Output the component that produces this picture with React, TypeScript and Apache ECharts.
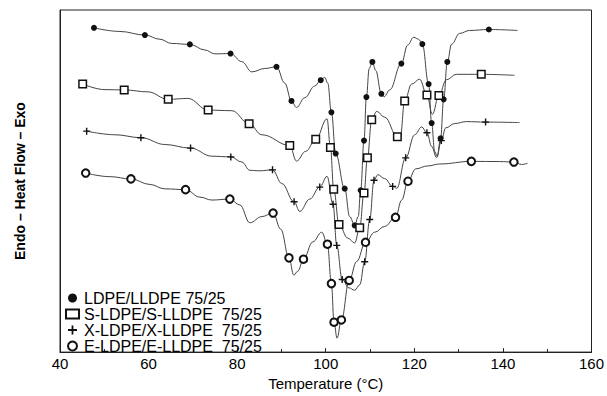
import React, { useEffect, useRef } from "react";
import * as echarts from "echarts";

// [temperature (°C), heat flow (arb. units), marker flag]
const ldpeLldpe: [number, number, number][] = [
  [47.67, 33.27, 1], [53.53, 32.9, 0], [59.17, 32.53, 1], [62.56, 32.1, 0], [65.19, 31.67, 0],
  [69.32, 31.57, 1], [72.71, 31.0, 0], [74.96, 30.6, 0], [78.5, 30.63, 1], [81.05, 29.8, 0],
  [83.31, 28.75, 0], [86.24, 29.1, 0], [88.88, 29.27, 1], [90.75, 27.6, 0], [92.26, 25.77, 1],
  [93.39, 25.1, 0], [95.26, 26.1, 0], [97.52, 27.3, 0], [98.87, 27.9, 1], [99.77, 28.2, 0],
  [100.45, 27.6, 0], [101.28, 24.6, 1], [102.25, 20.37, 1], [104.28, 16.77, 1], [105.41, 13.9, 0],
  [106.54, 13.0, 1], [107.33, 13.9, 0], [107.89, 16.6, 1], [108.64, 21.7, 1], [109.18, 26.17, 1],
  [109.81, 29.1, 0], [110.53, 29.77, 1], [111.28, 28.9, 0], [112.56, 26.5, 1], [113.19, 26.2, 0],
  [114.43, 26.9, 0], [117.07, 29.6, 1], [118.49, 31.5, 0], [119.85, 32.3, 0], [120.98, 32.1, 0],
  [121.81, 31.6, 1], [123.23, 27.5, 1], [123.91, 23.5, 1], [124.59, 20.6, 0], [125.15, 20.1, 0],
  [125.94, 21.93, 1], [126.62, 25.93, 1], [127.45, 29.77, 1], [128.42, 31.6, 0], [130.23, 32.7, 0],
  [132.48, 33.0, 0], [136.83, 33.1, 1], [143.31, 33.0, 0],
];

const sLdpeSLldpe: [number, number, number][] = [
  [45.12, 27.5, 1], [50.15, 26.93, 0], [54.5, 26.9, 1], [59.85, 26.7, 0], [64.43, 25.93, 1],
  [68.87, 26.03, 0], [73.45, 24.83, 1], [78.8, 24.77, 0], [82.7, 23.43, 1], [85.56, 22.3, 0],
  [91.88, 21.2, 1], [93.39, 19.6, 0], [95.49, 20.6, 0], [97.74, 21.83, 1], [100.29, 23.93, 0],
  [101.06, 21.0, 1], [101.8, 16.7, 1], [103.0, 13.1, 1], [104.96, 11.7, 0], [106.54, 11.2, 0],
  [107.67, 12.77, 1], [108.64, 16.33, 1], [109.41, 19.93, 1], [110.38, 23.83, 1], [111.5, 24.7, 0],
  [113.31, 24.1, 0], [116.17, 22.1, 1], [116.8, 21.9, 0], [117.82, 25.77, 1], [119.4, 27.5, 0],
  [121.2, 28.0, 0], [122.85, 26.37, 1], [124.07, 24.4, 0], [125.55, 26.33, 1], [127.22, 27.93, 0],
  [129.48, 28.5, 0], [135.12, 28.5, 1], [142.63, 28.4, 0],
];

const xLdpeXLldpe: [number, number, number][] = [
  [46.02, 22.67, 1], [52.41, 22.3, 0], [58.27, 22.0, 1], [63.68, 21.3, 0], [69.48, 20.93, 1],
  [74.28, 20.1, 0], [78.57, 20.03, 1], [81.05, 19.5, 0], [82.86, 18.65, 0], [85.11, 18.6, 0],
  [87.98, 18.7, 1], [90.07, 17.3, 0], [92.85, 15.43, 1], [94.13, 14.43, 0], [96.39, 15.7, 0],
  [98.65, 16.93, 1], [100.29, 18.03, 0], [101.65, 15.17, 1], [102.48, 10.95, 1], [103.72, 7.45, 1],
  [105.19, 6.6, 0], [106.54, 6.35, 0], [107.67, 6.9, 0], [108.8, 9.27, 1], [109.93, 13.6, 1],
  [110.9, 17.63, 1], [111.73, 18.2, 0], [113.31, 17.8, 0], [115.11, 17.0, 1], [116.02, 16.8, 0],
  [118.05, 19.93, 1], [120.08, 22.3, 0], [121.66, 23.1, 0], [122.85, 22.5, 1], [123.91, 21.1, 0],
  [125.04, 19.95, 0], [126.1, 21.7, 1], [127.07, 23.0, 0], [129.1, 23.45, 0], [131.74, 23.65, 0],
  [136.09, 23.6, 1], [143.76, 23.55, 0],
];

const eLdpeELldpe: [number, number, number][] = [
  [45.8, 18.37, 1], [51.28, 18.0, 0], [56.02, 17.77, 1], [60.3, 17.2, 0], [63.68, 16.75, 0],
  [68.35, 16.67, 1], [71.58, 15.9, 0], [74.28, 15.6, 0], [78.35, 15.7, 1], [80.6, 15.1, 0],
  [82.86, 13.27, 0], [85.56, 13.9, 0], [88.11, 14.27, 1], [89.85, 12.6, 0], [91.7, 9.67, 1],
  [92.78, 7.9, 0], [93.68, 8.3, 0], [94.97, 9.53, 1], [97.07, 11.3, 0], [99.1, 12.3, 0],
  [100.38, 11.07, 1], [101.28, 7.03, 1], [101.87, 3.07, 1], [102.55, 1.43, 0], [103.54, 3.3, 1],
  [105.3, 7.35, 1], [106.99, 9.3, 0], [108.98, 11.27, 1], [111.06, 12.3, 0], [113.31, 12.9, 0],
  [115.75, 13.83, 1], [117.15, 15.6, 0], [118.57, 17.53, 1], [120.3, 18.8, 0], [123.01, 19.1, 0],
  [125.72, 19.3, 0], [132.87, 19.57, 1], [139.25, 19.55, 0], [142.48, 19.5, 1], [144.21, 19.25, 0],
  [145.56, 19.37, 0],
];

const seriesNames = [
  "LDPE/LLDPE 75/25",
  "S-LDPE/S-LLDPE 75/25",
  "X-LDPE/X-LLDPE 75/25",
  "E-LDPE/E-LLDPE 75/25",
];

const xTicks = [40, 60, 80, 100, 120, 140, 160];

const CROSS = "path://M4,0H6V4H10V6H6V10H4V6H0V4H4Z";
const FONT = "'Liberation Sans', Arial, Helvetica, sans-serif";

export default function App() {
  const ref = useRef<HTMLDivElement>(null);

  useEffect(() => {
    if (!ref.current) return;
    const chart = echarts.init(ref.current, null, { renderer: "svg" });

    const styles = [
      { symbol: "circle", size: 6, item: { color: "#111", borderWidth: 0 } },
      { symbol: "rect", size: 7.5, item: { color: "#fff", borderColor: "#111", borderWidth: 1.5 } },
      { symbol: CROSS, size: 7, item: { color: "#111", borderWidth: 0 } },
      { symbol: "circle", size: 7.5, item: { color: "#fff", borderColor: "#111", borderWidth: 2 } },
    ];
    const curves = [ldpeLldpe, sLdpeSLldpe, xLdpeXLldpe, eLdpeELldpe];

    const series = curves.map((pts, i) => ({
      type: "line",
      name: seriesNames[i],
      smooth: 0.4,
      smoothMonotone: "x",
      symbol: styles[i].symbol,
      symbolSize: styles[i].size,
      showSymbol: true,
      showAllSymbol: true,
      lineStyle: { color: "#444", width: 1 },
      itemStyle: styles[i].item,
      emphasis: { disabled: true },
      data: pts.map(([t, h, m]) => ({
        value: [t, h],
        symbol: m ? styles[i].symbol : "none",
      })),
    }));

    chart.setOption({
      animation: false,
      textStyle: { fontFamily: FONT },
      grid: {
        left: 60,
        right: 15,
        top: 10,
        bottom: 35,
        show: true,
        borderColor: "#222",
        borderWidth: 1,
      },
      legend: {
        orient: "vertical",
        left: 65,
        top: 290,
        padding: 0,
        itemWidth: 13,
        itemHeight: 9,
        itemGap: 0,
        selectedMode: false,
        textStyle: { fontSize: 16, color: "#000", lineHeight: 15.5, fontFamily: FONT },
        formatter: (name: string) =>
          name.startsWith("LDPE") ? name : name.replace(" ", "\u00a0\u00a0"),
        data: seriesNames.map((n, i) => ({ name: n, icon: styles[i].symbol })),
      },
      xAxis: {
        type: "value",
        min: xTicks[0],
        max: xTicks[xTicks.length - 1],
        interval: 20,
        axisLine: { show: true, lineStyle: { color: "#222", width: 1 } },
        axisTick: { show: true, inside: true, length: 4, lineStyle: { color: "#222" } },
        minorTick: { show: true, splitNumber: 2, length: 3, lineStyle: { color: "#222" } },
        splitLine: { show: false },
        axisLabel: { fontSize: 15, color: "#000", margin: 4, fontFamily: FONT },
        name: "Temperature (°C)",
        nameLocation: "middle",
        nameGap: 20,
        nameTextStyle: { fontSize: 15, color: "#000", fontFamily: FONT },
      },
      yAxis: {
        type: "value",
        min: 0,
        max: 35.1,
        axisLine: { show: true, lineStyle: { color: "#222", width: 1 } },
        axisTick: { show: false },
        axisLabel: { show: false },
        splitLine: { show: false },
        name: "Endo \u2013 Heat Flow \u2013 Exo",
        nameLocation: "middle",
        nameGap: 33,
        nameTextStyle: { fontSize: 14, fontWeight: "bold", color: "#000", fontFamily: FONT },
      },
      series,
    });

    return () => chart.dispose();
  }, []);

  return (
    <div
      ref={ref}
      style={{ position: "absolute", left: 0, top: 0, width: 607, height: 396, background: "#fff" }}
    />
  );
}
